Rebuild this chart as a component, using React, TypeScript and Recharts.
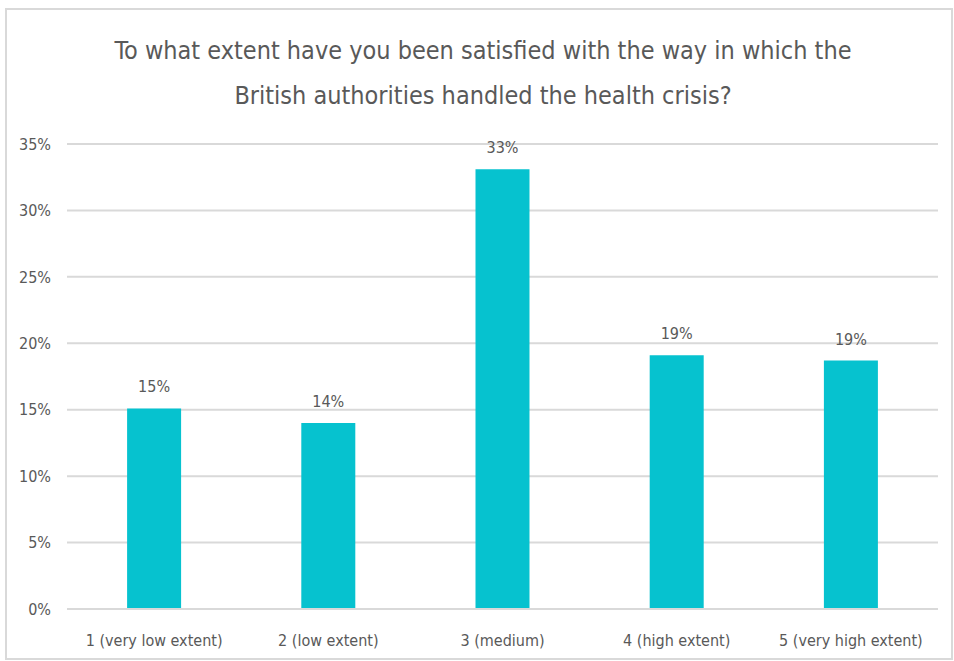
import React from 'react';
import { BarChart, Bar, XAxis, YAxis, CartesianGrid, LabelList } from 'recharts';

const categories = ['1 (very low extent)', '2 (low extent)', '3 (medium)', '4 (high extent)', '5 (very high extent)'];
const shares = [15.1, 14.0, 33.1, 19.1, 18.7];
const yTicks = [0, 5, 10, 15, 20, 25, 30, 35];

const data = categories.map((name, i) => ({ name, value: shares[i] }));

const FONT = "'DejaVu Sans Condensed', 'Open Sans', sans-serif";
const TEXT = '#595959';

export default function App() {
  return (
    <div style={{ position: 'absolute', left: 0, top: 0, width: 954, height: 661, background: '#fff', fontFamily: FONT }}>
      <div
        style={{
          position: 'absolute',
          left: 5,
          top: 8,
          width: 944,
          height: 648,
          border: '2px solid #D9D9D9',
        }}
      />
      <div
        style={{
          position: 'absolute',
          left: 0,
          top: 28,
          width: 966,
          textAlign: 'center',
          color: TEXT,
          fontSize: 25,
          lineHeight: '45px',
        }}
      >
        To what extent have you been satisfied with the way in which the
        <br />
        British authorities handled the health crisis?
      </div>
      <div style={{ position: 'absolute', left: 0, top: 0 }}>
        <BarChart
          width={954}
          height={661}
          data={data}
          margin={{ top: 144, right: 16, left: 17, bottom: 22 }}
          barCategoryGap="34.5%"
        >
          <CartesianGrid vertical={false} stroke="#D9D9D9" strokeWidth={2} />
          <XAxis
            dataKey="name"
            axisLine={{ stroke: '#D9D9D9', strokeWidth: 2 }}
            tickLine={false}
            height={30}
            tickMargin={20}
            tick={{ fill: TEXT, fontSize: 16, fontFamily: FONT }}
            interval={0}
          />
          <YAxis
            width={50}
            domain={[0, 35]}
            ticks={yTicks}
            axisLine={false}
            tickLine={false}
            tickFormatter={(v: number) => `${v}%`}
            tick={{ fill: TEXT, fontSize: 16, fontFamily: FONT, dx: -8 }}
          />
          <Bar dataKey="value" fill="#06C2CF" isAnimationActive={false}>
            <LabelList
              dataKey="value"
              position="top"
              offset={16}
              formatter={(v: number) => `${Math.round(v)}%`}
              style={{ fill: TEXT, fontSize: 16, fontFamily: FONT }}
            />
          </Bar>
        </BarChart>
      </div>
    </div>
  );
}
